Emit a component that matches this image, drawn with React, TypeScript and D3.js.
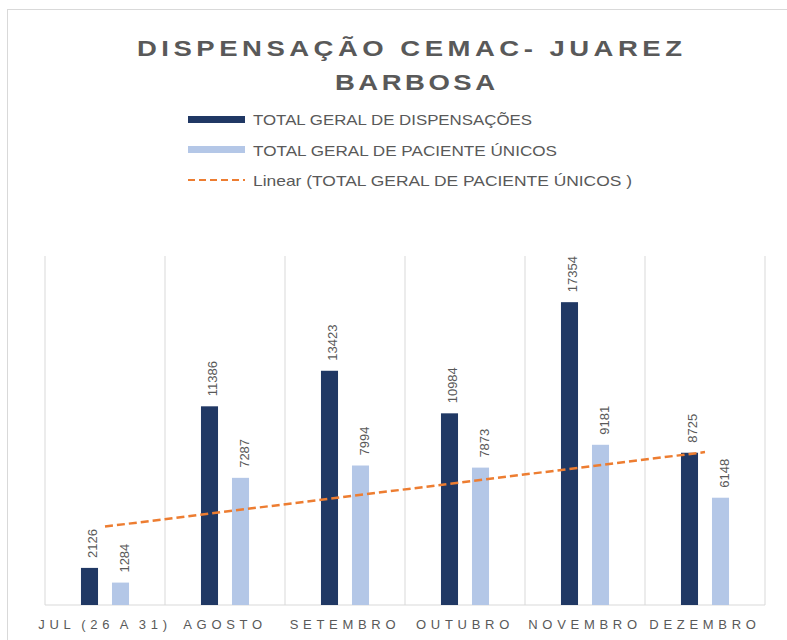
import React from "react";
import { scaleBand, scaleLinear, line, mean, sum } from "d3";

const categories = ["JUL (26 A 31)", "AGOSTO", "SETEMBRO", "OUTUBRO", "NOVEMBRO", "DEZEMBRO"];
const dispensacoes = [2126, 11386, 13423, 10984, 17354, 8725];
const pacientesUnicos = [1284, 7287, 7994, 7873, 9181, 6148];
const titleLines = ["DISPENSAÇÃO CEMAC- JUAREZ", "BARBOSA"];
const legendLabels = [
  "TOTAL GERAL DE DISPENSAÇÕES",
  "TOTAL GERAL DE PACIENTE ÚNICOS",
  "Linear (TOTAL GERAL DE PACIENTE ÚNICOS )",
];

const DARK = "#203864";
const LIGHT = "#B4C7E7";
const ORANGE = "#ED7D31";
const TEXT = "#595959";
const GRID = "#D9D9D9";

const W = 787;
const H = 640;
const plot = { left: 45, right: 765, top: 256, bottom: 605 };
const STRETCH = 1.25;

// least squares fit, like Excel's linear trendline
function linearFit(values: number[]) {
  const xs = values.map((_, i) => i + 1);
  const mx = mean(xs) as number;
  const my = mean(values) as number;
  const slope =
    (sum(xs, (x, i) => (x - mx) * (values[i] - my)) as number) /
    (sum(xs, (x) => (x - mx) * (x - mx)) as number);
  return (x: number) => my + slope * (x - mx);
}

export default function App() {
  const x = scaleBand<string>()
    .domain(categories)
    .range([plot.left, plot.right])
    .padding(0);
  const inner = scaleBand<string>()
    .domain(["disp", "pac"])
    .range([0, x.bandwidth()])
    .paddingInner(0.45)
    .paddingOuter(1.16);
  const y = scaleLinear().domain([0, 20000]).range([plot.bottom, plot.top]);

  const fit = linearFit(pacientesUnicos);
  const trend = line<number>()
    .x((i) => (x(categories[i]) as number) + x.bandwidth() / 2)
    .y((i) => y(fit(i + 1)));
  const trendPath = trend([0, categories.length - 1]) as string;

  const series = [
    { key: "disp", values: dispensacoes, color: DARK },
    { key: "pac", values: pacientesUnicos, color: LIGHT },
  ];

  const boundaries = [...categories.map((c) => x(c) as number), plot.right];

  return (
    <svg
      width={W}
      height={H}
      style={{ position: "absolute", left: 0, top: 0, background: "#fff" }}
      fontFamily="'Liberation Sans', Arial, sans-serif"
    >
      <rect x={7.5} y={9.5} width={W} height={H} fill="#fff" stroke={GRID} />

      {/* title, stretched a bit horizontally like the original */}
      <text
        transform={`translate(137,56) scale(${STRETCH},1)`}
        fontSize={22}
        fontWeight="bold"
        fill={TEXT}
        textLength={545 / STRETCH}
        lengthAdjust="spacing"
      >
        {titleLines[0]}
      </text>
      <text
        transform={`translate(335,90) scale(${STRETCH},1)`}
        fontSize={22}
        fontWeight="bold"
        fill={TEXT}
        textLength={160 / STRETCH}
        lengthAdjust="spacing"
      >
        {titleLines[1]}
      </text>

      {/* legend */}
      <rect x={188} y={116} width={57} height={7} fill={DARK} />
      <rect x={188} y={146} width={57} height={7} fill={LIGHT} />
      <line
        x1={188}
        x2={245}
        y1={180}
        y2={180}
        stroke={ORANGE}
        strokeWidth={2}
        strokeDasharray="7 4"
      />
      {legendLabels.map((t, i) => (
        <text
          key={t}
          x={253}
          y={125 + i * 30.5}
          fontSize={15}
          fill={TEXT}
          textLength={[279, 304, 379][i]}
          lengthAdjust="spacingAndGlyphs"
        >
          {t}
        </text>
      ))}

      {/* grid */}
      {boundaries.map((bx, i) => (
        <line key={i} x1={bx} x2={bx} y1={plot.top} y2={plot.bottom} stroke={GRID} />
      ))}
      <line x1={plot.left} x2={plot.right} y1={plot.bottom} y2={plot.bottom} stroke={GRID} />

      {/* bars */}
      {series.map((s) =>
        s.values.map((v, i) => {
          const bx = (x(categories[i]) as number) + (inner(s.key) as number);
          const cx = bx + inner.bandwidth() / 2;
          return (
            <g key={s.key + i}>
              <rect
                x={bx}
                y={y(v)}
                width={inner.bandwidth()}
                height={plot.bottom - y(v)}
                fill={s.color}
              />
              <text
                transform={`translate(${cx + 8},${y(v) - 10}) rotate(-90)`}
                fontSize={13}
                fill={TEXT}
              >
                {v}
              </text>
            </g>
          );
        })
      )}

      {/* trendline */}
      <path
        d={trendPath}
        fill="none"
        stroke={ORANGE}
        strokeWidth={2.5}
        strokeDasharray="8 4"
      />

      {/* category labels */}
      {categories.map((c) => (
        <text
          key={c}
          x={(x(c) as number) + x.bandwidth() / 2}
          y={629}
          fontSize={13}
          fill={TEXT}
          textAnchor="middle"
          letterSpacing={4.7}
          wordSpacing={-2}
        >
          {c}
        </text>
      ))}
    </svg>
  );
}
